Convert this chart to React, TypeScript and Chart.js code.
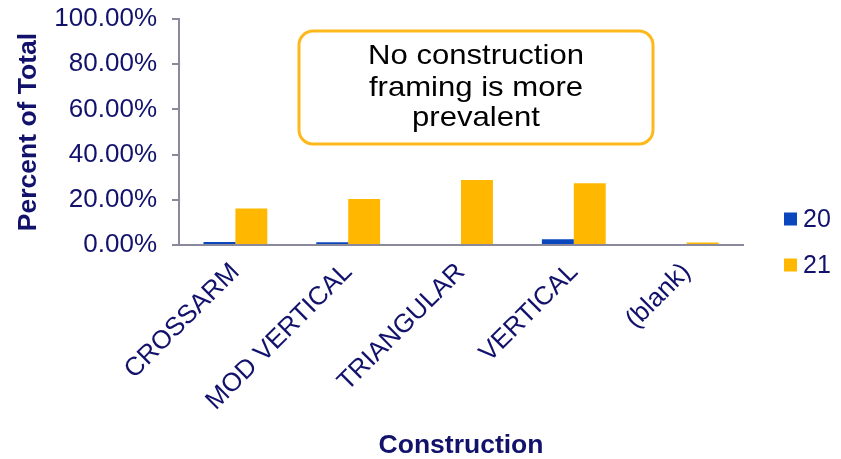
import React, { useEffect, useRef } from "react";
import { Chart, registerables } from "chart.js";

Chart.register(...registerables);

const categories = ["CROSSARM", "MOD VERTICAL", "TRIANGULAR", "VERTICAL", "(blank)"];
const series20 = [1.3, 1.2, 0, 2.5, 0];
const series21 = [16.2, 20.4, 28.8, 27.3, 1.1];
const seriesNames = ["20", "21"];
const yTicks = [0, 20, 40, 60, 80, 100];
const noteLines = ["No construction", "framing is more", "prevalent"];

const NAVY = "#12126c";
const BLUE = "#0a47bd";
const ORANGE = "#ffb700";
const AXIS = "#8a8a9c";
const FONT = "'Liberation Sans', Arial, sans-serif";

const overlayPlugin = {
  id: "overlay",
  afterDraw(chart: any) {
    const ctx = chart.ctx;
    ctx.save();
    // annotation box
    ctx.strokeStyle = "#ffb81c";
    ctx.lineWidth = 3;
    ctx.beginPath();
    ctx.roundRect(299, 31, 354, 113, 14);
    ctx.stroke();
    ctx.fillStyle = "#000000";
    ctx.font = `28px ${FONT}`;
    ctx.textAlign = "center";
    ctx.textBaseline = "alphabetic";
    const baselines = [64, 95.5, 125.5];
    const sx = 1.11;
    noteLines.forEach((t, i) => {
      ctx.save();
      ctx.translate(476, baselines[i]);
      ctx.scale(sx, 1);
      ctx.fillText(t, 0, 0);
      ctx.restore();
    });
    // legend
    const colors = [BLUE, ORANGE];
    const ys = [219, 265];
    ctx.font = `25px ${FONT}`;
    ctx.textAlign = "left";
    ctx.textBaseline = "middle";
    seriesNames.forEach((n, i) => {
      ctx.fillStyle = colors[i];
      ctx.fillRect(784, ys[i] - 6.5, 13, 13);
      ctx.fillStyle = NAVY;
      ctx.fillText(n, 803, ys[i] + 1);
    });
    ctx.restore();
  },
};

export default function App() {
  const ref = useRef<HTMLCanvasElement>(null);
  useEffect(() => {
    document.body.style.margin = "0";
    const chart = new Chart(ref.current!, {
      type: "bar",
      data: {
        labels: categories,
        datasets: [
          { label: seriesNames[0], data: series20, backgroundColor: BLUE },
          { label: seriesNames[1], data: series21, backgroundColor: ORANGE },
        ],
      },
      options: {
        responsive: false,
        animation: false,
        layout: { padding: { top: 19, right: 98, left: 0, bottom: 0 } },
        datasets: { bar: { categoryPercentage: 0.566, barPercentage: 1 } },
        plugins: { legend: { display: false }, tooltip: { enabled: false } },
        scales: {
          x: {
            grid: { display: false },
            border: { display: true, color: AXIS, width: 2 },
            ticks: {
              color: NAVY,
              font: { family: FONT, size: 26 },
              minRotation: 45,
              maxRotation: 45,
              padding: 4,
              autoSkip: false,
            },
            title: {
              display: true,
              text: "Construction",
              color: NAVY,
              font: { family: FONT, size: 26.5, weight: "bold", lineHeight: 1 },
              padding: { top: 0, bottom: 0 },
            },
            afterFit: (s: any) => {
              s.height = 214;
              s.paddingLeft = 0;
              s.paddingRight = 0;
              s.paddingTop = 0;
              s.paddingBottom = 0;
            },
          },
          y: {
            min: 0,
            max: 100,
            afterBuildTicks: (s: any) => {
              s.ticks = yTicks.map((v) => ({ value: v }));
            },
            grid: { drawOnChartArea: false, drawTicks: true, tickLength: 7, color: AXIS, lineWidth: 2 },
            border: { display: true, color: AXIS, width: 2 },
            ticks: {
              color: NAVY,
              font: { family: FONT, size: 26 },
              padding: 15,
              callback: (v: any) => `${Number(v).toFixed(2)}%`,
            },
            title: {
              display: true,
              text: "Percent of Total",
              color: NAVY,
              font: { family: FONT, size: 26.5, weight: "bold", lineHeight: 1.2 },
              padding: { top: 13, bottom: 0 },
            },
            afterFit: (s: any) => {
              s.width = 179;
              s.paddingTop = 0;
              s.paddingBottom = 0;
              s.paddingLeft = 0;
              s.paddingRight = 0;
            },
          },
        },
      },
      plugins: [overlayPlugin],
    } as any);
    return () => chart.destroy();
  }, []);
  return (
    <div style={{ position: "absolute", left: 0, top: 0, width: 841, height: 459 }}>
      <canvas ref={ref} width={841} height={459} />
    </div>
  );
}
